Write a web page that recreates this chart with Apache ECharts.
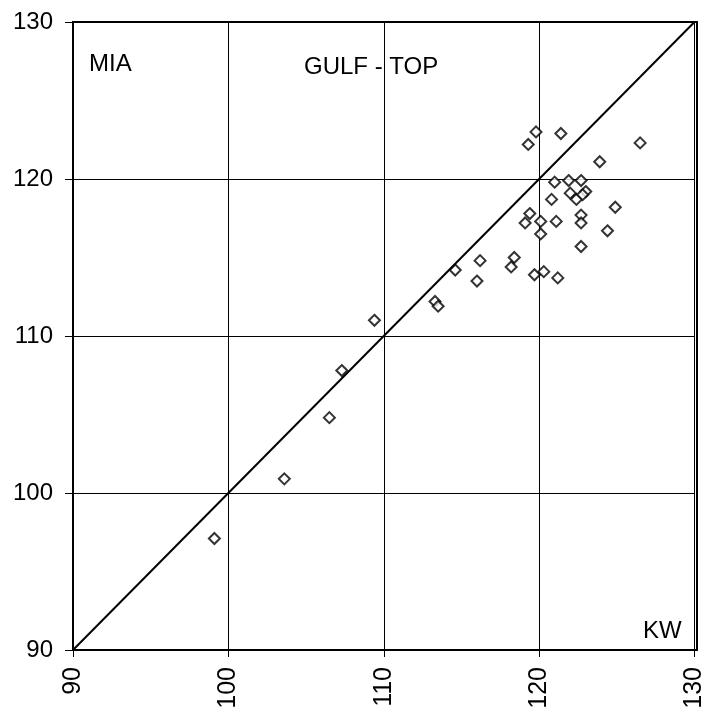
<!DOCTYPE html>
<html>
<head>
<meta charset="utf-8">
<script src="https://cdn.jsdelivr.net/npm/echarts@6/dist/echarts.min.js"></script>
<style>html,body{margin:0;padding:0;background:#fff;}#c{width:707px;height:718px;}</style>
</head>
<body>
<div id="c"></div>
<script>
// KW (x) vs MIA (y)
var kwValues = [119.8,121.4,119.3,126.5,123.9,121.0,121.9,122.7,123.0,122.0,122.4,122.8,120.8,124.9,119.4,119.1,120.1,121.1,122.7,122.7,120.1,124.4,122.7,116.2,118.4,118.2,116.0,119.7,120.3,121.2,114.6,113.3,113.5,109.4,107.3,106.5,103.6,99.1];
var miaValues = [123.0,122.9,122.2,122.3,121.1,119.8,119.9,119.9,119.2,119.1,118.7,119.0,118.7,118.2,117.8,117.2,117.3,117.3,117.7,117.2,116.5,116.7,115.7,114.8,115.0,114.4,113.5,113.9,114.1,113.7,114.2,112.2,111.9,111.0,107.8,104.8,100.9,97.1];
var equalityLine = [90,130];
var axisTicks = [90,100,110,120,130];
var labelTexts = ["MIA","GULF - TOP","KW"];

var pts = kwValues.map(function(v,i){return [v, miaValues[i]];});
var chart = echarts.init(document.getElementById('c'));
var fnt = '"Liberation Sans", Arial, sans-serif';
chart.setOption({
  animation:false,
  backgroundColor:'#fff',
  grid:{left:73,right:10,top:22,bottom:68},
  xAxis:{type:'value',min:axisTicks[0],max:axisTicks[axisTicks.length-1],interval:10,
    axisLine:{show:true,onZero:false,lineStyle:{color:'#000',width:2}},
    axisTick:{show:true,length:7,lineStyle:{color:'#000',width:1}},
    axisLabel:{rotate:90,color:'#000',fontSize:25,fontFamily:fnt,margin:17},
    splitLine:{show:true,lineStyle:{color:'#000',width:1}}},
  yAxis:{type:'value',min:axisTicks[0],max:axisTicks[axisTicks.length-1],interval:10,
    axisLine:{show:true,onZero:false,lineStyle:{color:'#000',width:2}},
    axisTick:{show:true,length:8,lineStyle:{color:'#000',width:1}},
    axisLabel:{color:'#000',fontSize:24,fontFamily:fnt,margin:20},
    splitLine:{show:true,lineStyle:{color:'#000',width:1}}},
  series:[
    {type:'line',data:[[equalityLine[0],equalityLine[0]],[equalityLine[1],equalityLine[1]]],
     symbol:'none',lineStyle:{color:'#000',width:2},silent:true},
    {type:'scatter',data:pts,symbol:'diamond',symbolSize:11,
     itemStyle:{color:'#fff',borderColor:'#000',borderWidth:2}}
  ],
  graphic:[
    {type:'rect',shape:{x:73,y:22,width:624,height:628},style:{fill:'none',stroke:'#000',lineWidth:2},silent:true,z:-1},
    {type:'text',left:89,top:52,style:{text:labelTexts[0],font:'24px '+fnt,fill:'#000'}},
    {type:'text',left:304,top:55,style:{text:labelTexts[1],font:'24px '+fnt,fill:'#000'}},
    {type:'text',left:643,top:619,style:{text:labelTexts[2],font:'24px '+fnt,fill:'#000'}}
  ]
});
</script>
</body>
</html>
